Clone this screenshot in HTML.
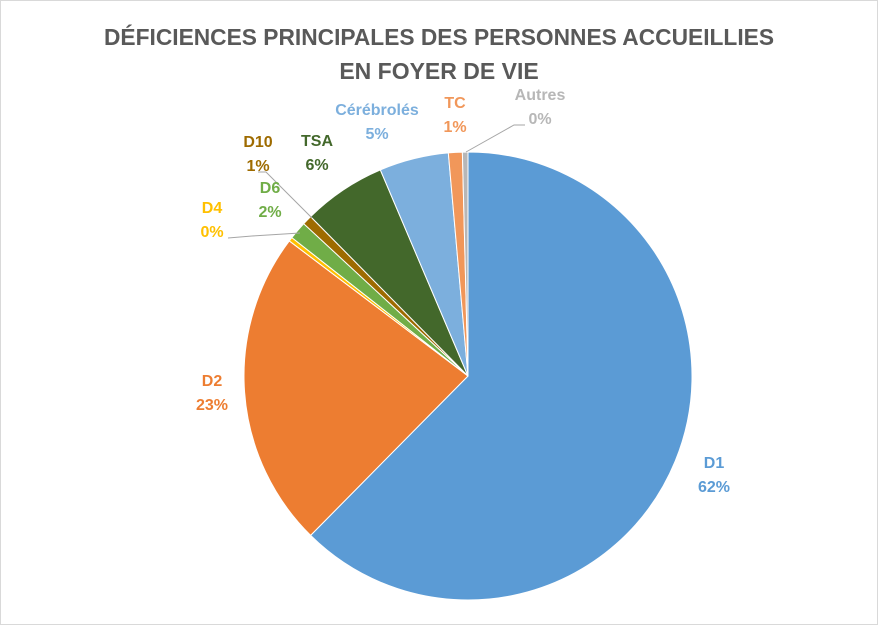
<!DOCTYPE html>
<html><head><meta charset="utf-8"><style>
body{margin:0;background:#fff}
svg{display:block}
text{font-family:"Liberation Sans",sans-serif;font-weight:bold}
</style></head><body>
<svg width="878" height="625">
<rect x="0.5" y="0.5" width="877" height="624" fill="#fff" stroke="#d9d9d9"/>
<text x="439" y="45" text-anchor="middle" font-size="23" fill="#595959" textLength="670" lengthAdjust="spacingAndGlyphs">DÉFICIENCES PRINCIPALES DES PERSONNES ACCUEILLIES</text>
<text x="439" y="79" text-anchor="middle" font-size="23" fill="#595959">EN FOYER DE VIE</text>
<g id="slices"></g>
<g id="leaders" stroke="#a6a6a6" fill="none" stroke-width="1">
<polyline points="228,238 252,236 300,233"/>
<polyline points="258,172 266,172 312,218"/>
<polyline points="525,125 514,125 466,152"/>
</g>
<g id="labels" font-size="16"></g>
</svg>
<script>
const categories=["D1","D2","D4","D6","D10","TSA","Cérébrolés","TC","Autres"];
const values=[62.4,22.9,0.3,1.3,0.7,6.0,5.0,1.0,0.4];
const printed=["62%","23%","0%","2%","1%","6%","5%","1%","0%"];
const colors=["#5b9bd5","#ed7d31","#ffc000","#70ad47","#9e6b00","#43682b","#7cafdd","#f1975a","#b7b7b7"];
const labelColors=["#5b9bd5","#ed7d31","#ffc000","#70ad47","#9e6b00","#43682b","#7cafdd","#f1975a","#b7b7b7"];
const labelPos=[[714,468],[212,386],[212,213],[270,193],[258,147],[317,146],[377,115],[455,108],[540,100]];
const cx=468,cy=376,r=224;
const total=values.reduce((a,b)=>a+b,0);
const ns="http://www.w3.org/2000/svg";
const g=document.getElementById('slices');
let acc=0;
function pt(a){return [cx+r*Math.sin(a),cy-r*Math.cos(a)];}
values.forEach((v,i)=>{
  const a0=acc/total*2*Math.PI; acc+=v; const a1=acc/total*2*Math.PI;
  const p0=pt(a0),p1=pt(a1);
  const p=document.createElementNS(ns,'path');
  p.setAttribute('d',`M${cx},${cy}L${p0[0]},${p0[1]}A${r},${r} 0 ${a1-a0>Math.PI?1:0} 1 ${p1[0]},${p1[1]}Z`);
  p.setAttribute('fill',colors[i]);p.setAttribute('stroke','#fff');p.setAttribute('stroke-width','1');
  
  
  g.appendChild(p);
});
const lg=document.getElementById('labels');
categories.forEach((c,i)=>{
  const t=document.createElementNS(ns,'text');
  t.setAttribute('x',labelPos[i][0]);t.setAttribute('y',labelPos[i][1]);
  t.setAttribute('text-anchor','middle');t.setAttribute('fill',labelColors[i]);
  
  
  const s1=document.createElementNS(ns,'tspan');s1.setAttribute('x',labelPos[i][0]);s1.textContent=c;
  const s2=document.createElementNS(ns,'tspan');s2.setAttribute('x',labelPos[i][0]);s2.setAttribute('dy','24');s2.textContent=printed[i];
  t.appendChild(s1);t.appendChild(s2);lg.appendChild(t);
});
</script>
</body></html>
